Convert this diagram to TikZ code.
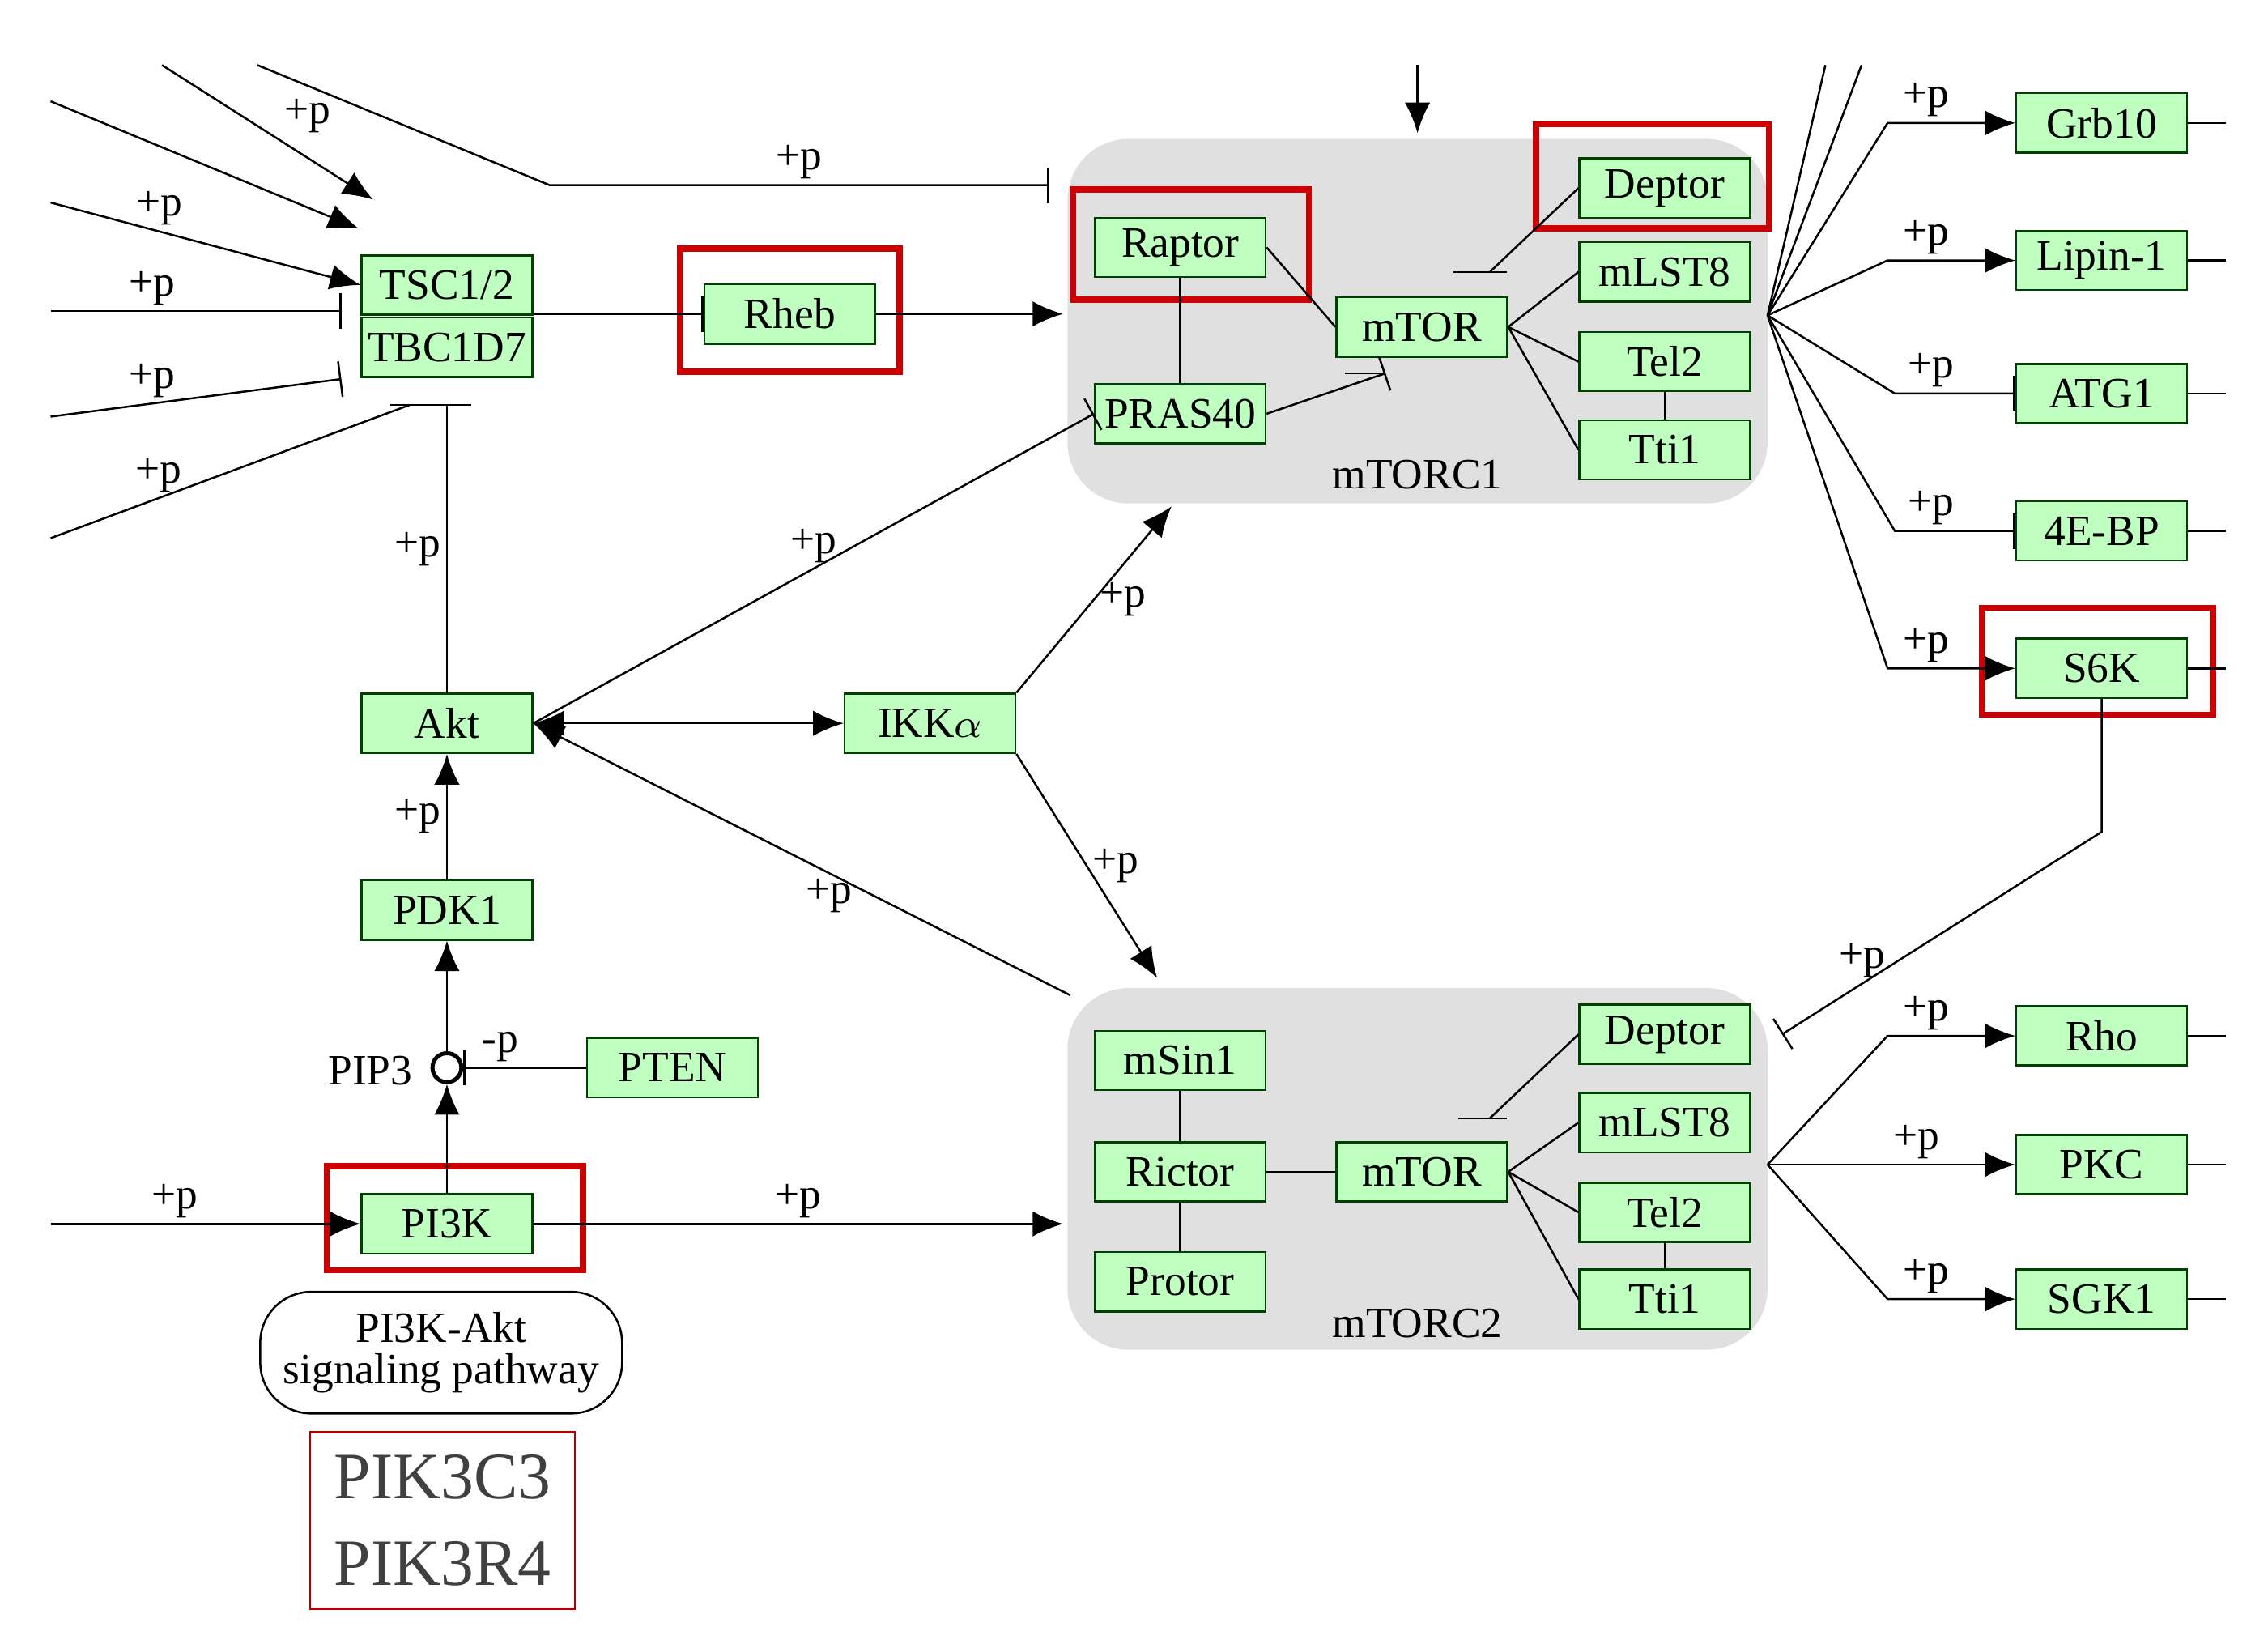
\documentclass[tikz,border=0pt]{standalone}
\usepackage{fontspec}
\setmainfont{Liberation Serif}
\usetikzlibrary{positioning}
\usetikzlibrary{arrows.meta}
\definecolor{gene}{RGB}{191,255,191}
\definecolor{region}{RGB}{224,224,224}
\begin{document}
\begin{tikzpicture}[x=0.01cm,y=-0.01cm,font=\fontsize{8.5}{9}\selectfont,
	gn/.style={draw=green!25!black, fill=gene, minimum width=1.18cm, minimum height=0.41cm, inner sep=0pt},
	hl/.style={draw=red!80!black, very thick},
	cpx/.style={fill=region, rounded corners=12pt},
	act/.style={-{Latex[length=6pt,width=5pt]}, thin},
	inh/.style={-{Bar[width=7pt]}, thin},
	lbl/.style={inner sep=1pt}]
				\useasboundingbox (0,0) rectangle (1568,1136);
				% complexes
				\fill[cpx] (738,96) rectangle (1222,348);
				\fill[cpx] (738,683) rectangle (1222,933);
				\node (c1) at (980,328) {mTORC1};
				\node (c2) at (980,915) {mTORC2};
				\coordinate (c1w) at (735,217);
				\coordinate (c1e) at (1222,218);
				\coordinate (c2w) at (735,846);
				\coordinate (c2e) at (1222,805);
				
				\node[gn] (tsc) at (309,197) {TSC1/2};
				\node[gn] (tbc) at (309,240) {TBC1D7};
				\node[gn] (rheb) at (546,217) {Rheb};
				\node[gn] (raptor) at (816,171) {Raptor};
				\node[gn] (pras) at (816,286) {PRAS40};
				\node[gn] (mtor1) at (983,226) {mTOR};
				\node[gn] (deptor1) at (1151,130) {Deptor};
				\node[gn] (mlst1) at (1151,188) {mLST8};
				\node[gn] (tel1) at (1151,250) {Tel2};
				\node[gn] (tti1) at (1151,311) {Tti1};
				\node[gn] (akt) at (309,500) {Akt};
				\node[gn] (ikk) at (643,500) {IKK$\alpha$};
				\node[gn] (pdk) at (309,629) {PDK1};
				\node[gn] (pten) at (465,738) {PTEN};
				\node[gn] (pi3k) at (309,846) {PI3K};
				\node[draw, circle, thick, fill=white, minimum size=0.2cm, inner sep=0pt] (pip) at (309,738) {};
				\node (piplbl) at (256,740) {PIP3};
				\node[gn] (msin) at (816,733) {mSin1};
				\node[gn] (rictor) at (816,810) {Rictor};
				\node[gn] (protor) at (816,886) {Protor};
				\node[gn] (mtor2) at (983,810) {mTOR};
				\node[gn] (deptor2) at (1151,715) {Deptor};
				\node[gn] (mlst2) at (1151,776) {mLST8};
				\node[gn] (tel2) at (1151,838) {Tel2};
				\node[gn] (tti2) at (1151,898) {Tti1};
				\node[gn] (grb) at (1453,85) {Grb10};
				\node[gn] (lipin) at (1453,180) {Lipin-1};
				\node[gn] (atg) at (1453,272) {ATG1};
				\node[gn] (ebp) at (1453,367) {4E-BP};
				\node[gn] (s6k) at (1453,462) {S6K};
				\node[gn] (rho) at (1453,716) {Rho};
				\node[gn] (pkc) at (1453,805) {PKC};
				\node[gn] (sgk) at (1453,898) {SGK1};
				\node[draw, rounded corners=10pt, minimum width=2.5cm, minimum height=0.84cm, align=center, inner sep=1pt] (path) at (305,935) {PI3K-Akt\\[-1pt]signaling pathway};
				\node[draw=red!70!black, minimum width=1.83cm, minimum height=1.22cm, align=center, text=black!75, font=\fontsize{13}{17}\selectfont] (pik) at (306,1051) {PIK3C3\\PIK3R4};
				
				% highlights
				\draw[hl] (470,172) rectangle (622,257);
				\draw[hl] (742,131) rectangle (905,207);
				\draw[hl] (1062,86) rectangle (1223,158);
				\draw[hl] (226,806) rectangle (403,878);
				\draw[hl] (1370,420) rectangle (1530,494);
				
				% inputs to TSC
				\draw[act] (112,45) -- (258,138) node[lbl, pos=0.55, above right] {+p};
				\draw[act] (35,70) -- (248,158);
				\draw[act] (35,140) -- (tsc.west) node[lbl, pos=0.35, above] {+p};
				\draw[inh] (35,215) -- (236,215) node[lbl, pos=0.35, above] {+p};
				\draw[inh] (35,288) -- (236,262) node[lbl, pos=0.35, above] {+p};
				\draw (35,372) -- (283,280) node[lbl, pos=0.3, above] {+p};
				\draw (270,280) -- (300,280);
				\draw[inh] (178,45) -- (380,128) -- (725,128) node[lbl, midway, above] {+p};
				\draw (akt) -- (309,280) node[lbl, midway, left] {+p};
				\draw (292,280) -- (326,280);
				\draw[inh] (tbc.east |- rheb) -- (rheb.west);
				\draw[act] (rheb) -- (c1w);
				\draw[act] (980,45) -- (980,92);
				
				% mTORC1
				\draw (raptor) -- (pras);
				\draw (raptor.east) -- (mtor1.west);
				\draw[inh] (pras.east) -- (958,258);
				\draw (930,258) -- (958,258);
				\draw (deptor1.west) -- (1030,188);
				\draw (1005,188) -- (1042,188);
				\foreach \t in {mlst1,tel1,tti1} \draw (mtor1.east) -- (\t.west);
				\draw (tel1) -- (tti1);
				
				% middle
				\draw[inh] (akt.east) -- (pras.west) node[lbl, pos=0.5, above] {+p};
				\draw[{Latex[length=6pt,width=5pt]}-{Latex[length=6pt,width=5pt]}] (akt.east) -- (ikk.west);
				\draw[act] (ikk.north east) -- (810,350) node[lbl, midway, right] {+p};
				\draw[act] (ikk.south east) -- (800,676) node[lbl, midway, right] {+p};
				\draw[act] (740,688) -- (akt.east) node[lbl, pos=0.45, below] {+p};
				\draw[act] (pdk) -- (akt) node[lbl, midway, left] {+p};
				\draw[act] (pip) -- (pdk);
				\draw[inh] (pten) -- (pip) node[lbl, pos=0.7, above] {-p};
				\draw[act] (pi3k) -- (pip);
				\draw[act] (35,846) -- (pi3k.west) node[lbl, pos=0.4, above] {+p};
				\draw[act] (pi3k.east) -- (c2w) node[lbl, midway, above] {+p};
				
				% mTORC2
				\draw (msin) -- (rictor) -- (protor);
				\draw (rictor) -- (mtor2);
				\draw (deptor2.west) -- (1030,773);
				\draw (1008,773) -- (1042,773);
				\foreach \t in {mlst2,tel2,tti2} \draw (mtor2.east) -- (\t.west);
				\draw (tel2) -- (tti2);
				
				% outputs
				\draw (c1e) -- (1262,45);
				\draw (c1e) -- (1287,45);
				\draw[act] (c1e) -- (1305,85) -- (grb.west) node[lbl, pos=0.3, above] {+p};
				\draw[act] (c1e) -- (1305,180) -- (lipin.west) node[lbl, pos=0.3, above] {+p};
				\draw[inh] (c1e) -- (1310,272) -- (atg.west) node[lbl, pos=0.3, above] {+p};
				\draw[inh] (c1e) -- (1310,367) -- (ebp.west) node[lbl, pos=0.3, above] {+p};
				\draw[act] (c1e) -- (1305,462) -- (s6k.west) node[lbl, pos=0.3, above] {+p};
				\draw[act] (c2e) -- (1305,716) -- (rho.west) node[lbl, pos=0.3, above] {+p};
				\draw[act] (c2e) -- (pkc.west) node[lbl, pos=0.6, above] {+p};
				\draw[act] (c2e) -- (1305,898) -- (sgk.west) node[lbl, pos=0.3, above] {+p};
				\draw[inh] (s6k.south) -- (1453,575) -- (1232,715) node[lbl, pos=0.75, above] {+p};
				\foreach \t in {grb,lipin,atg,ebp,s6k,rho,pkc,sgk} \draw (\t.east) -- ++(26,0);
			\end{tikzpicture}
\end{document}
